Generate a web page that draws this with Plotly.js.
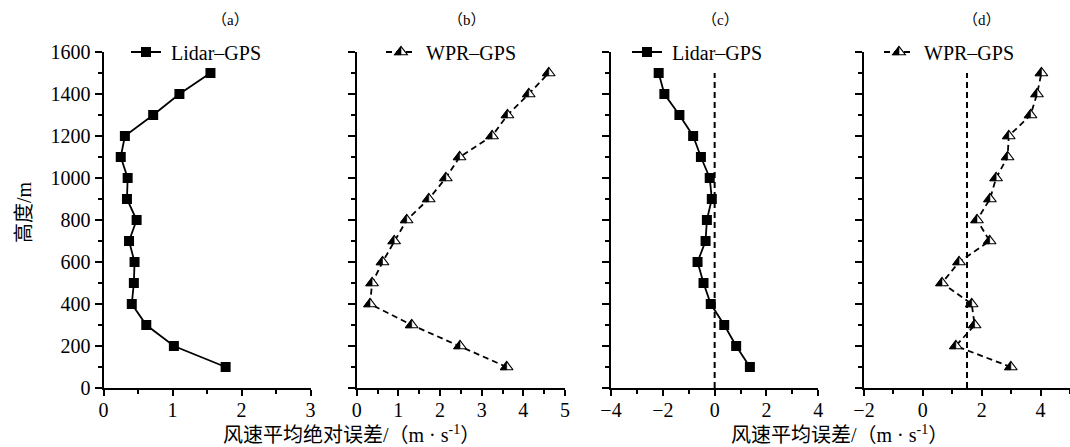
<!DOCTYPE html>
<html>
<head>
<meta charset="utf-8">
<script src="https://cdn.plot.ly/plotly-3.0.1.min.js"></script>
<style>html,body{margin:0;padding:0;background:#fff;}#chart{width:1070px;height:447px;}</style>
</head>
<body>
<div id="chart"></div>
<script>
// ---- data ----
var heights = [100, 200, 300, 400, 500, 600, 700, 800, 900, 1000, 1100, 1200, 1300, 1400, 1500];
var lidarAbs = [1.77, 1.02, 0.62, 0.41, 0.44, 0.45, 0.37, 0.48, 0.34, 0.35, 0.25, 0.31, 0.72, 1.10, 1.55];
var wprAbs = [3.60, 2.48, 1.32, 0.32, 0.37, 0.62, 0.90, 1.20, 1.73, 2.14, 2.47, 3.25, 3.62, 4.13, 4.61];
var lidarBias = [1.36, 0.83, 0.37, -0.15, -0.43, -0.66, -0.35, -0.30, -0.11, -0.19, -0.53, -0.83, -1.36, -1.94, -2.16];
var wprBias = [2.99, 1.12, 1.76, 1.66, 0.65, 1.23, 2.27, 1.84, 2.28, 2.49, 2.88, 2.92, 3.66, 3.88, 4.03];
var refLidarX = [0, 0];
var refWprX = [1.5, 1.5];
var refY = [0, 1500];
var panelLabels = ['（a）', '（b）', '（c）', '（d）'];
var seriesNames = ['Lidar–GPS', 'WPR–GPS'];
var yTitle = '高度/m';
var xTitleAbs = '风速平均绝对误差/（m · s<sup>-1</sup>）';
var xTitleBias = '风速平均误差/（m · s<sup>-1</sup>）';

var W = 1070, H = 447;
function px(x) { return x / W; }
function py(y) { return (H - y) / H; }

var SERIF = "'Liberation Serif', 'Times New Roman', 'Noto Sans CJK SC', serif";
var NB = '\u00a0';

var triMarker = {symbol: 'triangle-up', size: 11, color: '#fff', line: {color: '#000', width: 1.2}};
var sqMarker = {symbol: 'square', size: 10, color: '#000'};

var traces = [];
// (a)
traces.push({x: lidarAbs, y: heights, xaxis: 'x', yaxis: 'y', mode: 'lines+markers', name: NB + seriesNames[0],
  legend: 'legend', line: {color: '#000', width: 1.8}, marker: sqMarker, hoverinfo: 'skip'});
// (b)
traces.push({x: wprAbs, y: heights, xaxis: 'x2', yaxis: 'y2', mode: 'lines+markers', name: NB + seriesNames[1],
  legend: 'legend2', line: {color: '#000', width: 1.8, dash: '6px,4px'}, marker: triMarker, hoverinfo: 'skip'});
// (c)
traces.push({x: refLidarX, y: refY, xaxis: 'x3', yaxis: 'y3', mode: 'lines', showlegend: false,
  line: {color: '#000', width: 2, dash: '6px,4px'}, hoverinfo: 'skip'});
traces.push({x: lidarBias, y: heights, xaxis: 'x3', yaxis: 'y3', mode: 'lines+markers', name: NB + seriesNames[0],
  legend: 'legend3', line: {color: '#000', width: 1.8}, marker: sqMarker, hoverinfo: 'skip'});
// (d)
traces.push({x: refWprX, y: refY, xaxis: 'x4', yaxis: 'y4', mode: 'lines', showlegend: false,
  line: {color: '#000', width: 2, dash: '6px,4px'}, hoverinfo: 'skip'});
traces.push({x: wprBias, y: heights, xaxis: 'x4', yaxis: 'y4', mode: 'lines+markers', name: NB + seriesNames[1],
  legend: 'legend4', line: {color: '#000', width: 1.8, dash: '6px,4px'}, marker: triMarker, hoverinfo: 'skip'});

function xax(domain, range, dtick, minor) {
  return {domain: domain, range: range, dtick: dtick, tick0: 0, showgrid: false, zeroline: false,
    showline: true, linecolor: '#000', linewidth: 2, ticks: 'outside', ticklen: 6, tickwidth: 2, tickcolor: '#000',
    ticklabelstandoff: -3,
    minor: {dtick: minor, tick0: 0, ticks: 'outside', ticklen: 4, tickwidth: 2, tickcolor: '#000', showgrid: false},
    tickfont: {family: SERIF, size: 20, color: '#000'}, fixedrange: true};
}
function yax(anchor, labels) {
  return {domain: [py(388), py(52)], range: [0, 1600], dtick: 200, tick0: 0, anchor: anchor,
    showgrid: false, zeroline: false, showline: true, linecolor: '#000', linewidth: 2,
    ticks: 'outside', ticklen: 7, tickwidth: 2, tickcolor: '#000',
    minor: {dtick: 100, tick0: 0, ticks: 'outside', ticklen: 4, tickwidth: 2, tickcolor: '#000', showgrid: false},
    showticklabels: labels, tickfont: {family: SERIF, size: 20, color: '#000'}, fixedrange: true};
}
function leg(x) {
  return {x: px(x), y: py(52), xanchor: 'left', yanchor: 'middle', bgcolor: 'rgba(0,0,0,0)', borderwidth: 0,
    font: {family: SERIF, size: 20, color: '#000'}, tracegroupgap: 0};
}

var annotations = [];
var titleX = [230, 467, 720, 982];
for (var i = 0; i < 4; i++) {
  annotations.push({text: panelLabels[i], x: px(titleX[i]), y: py(20), xref: 'paper', yref: 'paper', showarrow: false,
    xanchor: 'center', yanchor: 'middle', font: {family: SERIF, size: 15, color: '#000'}});
}
annotations.push({text: yTitle, x: px(24), y: py(212), xref: 'paper', yref: 'paper', showarrow: false, textangle: -90,
  xanchor: 'center', yanchor: 'middle', font: {family: SERIF, size: 20, color: '#000'}});
annotations.push({text: xTitleAbs, x: px(351), y: py(434), xref: 'paper', yref: 'paper', showarrow: false,
  xanchor: 'center', yanchor: 'middle', font: {family: SERIF, size: 20, color: '#000'}});
annotations.push({text: xTitleBias, x: px(839), y: py(434), xref: 'paper', yref: 'paper', showarrow: false,
  xanchor: 'center', yanchor: 'middle', font: {family: SERIF, size: 20, color: '#000'}});

var layout = {
  width: W, height: H, margin: {l: 0, r: 0, t: 0, b: 0}, paper_bgcolor: '#fff', plot_bgcolor: 'rgba(0,0,0,0)',
  showlegend: true,
  xaxis: xax([px(103.5), px(310.5)], [0, 3], 1, 0.5),
  xaxis2: xax([px(356.7), px(565)], [0, 5], 1, 0.5),
  xaxis3: xax([px(611), px(818.3)], [-4, 4], 2, 1),
  xaxis4: xax([px(864), 1], [-2, 5], 2, 1),
  yaxis: yax('x', true), yaxis2: yax('x2', false), yaxis3: yax('x3', false), yaxis4: yax('x4', false),
  legend: leg(126), legend2: leg(381), legend3: leg(627), legend4: leg(879),
  annotations: annotations
};

// Half-filled (left half black) triangle markers, drawn inside each marker Plotly placed.
function halfFill(gd) {
  var pts = gd.querySelectorAll('path.point, path.scatterpts');
  pts.forEach(function (p) {
    var d = p.getAttribute('d') || '';
    var m = d.match(/^M(-?[\d.]+),(-?[\d.]+)H(-?[\d.]+)L0,(-?[\d.]+)Z$/);
    if (!m) return;
    var rt = Math.abs(parseFloat(m[1])), r2 = parseFloat(m[2]), top = parseFloat(m[4]);
    var half = document.createElementNS('http://www.w3.org/2000/svg', 'path');
    half.setAttribute('d', 'M' + (-rt) + ',' + r2 + 'H0V' + top + 'Z');
    var tr = p.getAttribute('transform');
    if (tr) half.setAttribute('transform', tr);
    half.setAttribute('style', 'fill:#000;stroke:#000;stroke-width:0.6px;');
    p.parentNode.insertBefore(half, p.nextSibling);
  });
}

Plotly.newPlot('chart', traces, layout, {staticPlot: true, displayModeBar: false}).then(halfFill);
</script>
</body>
</html>
